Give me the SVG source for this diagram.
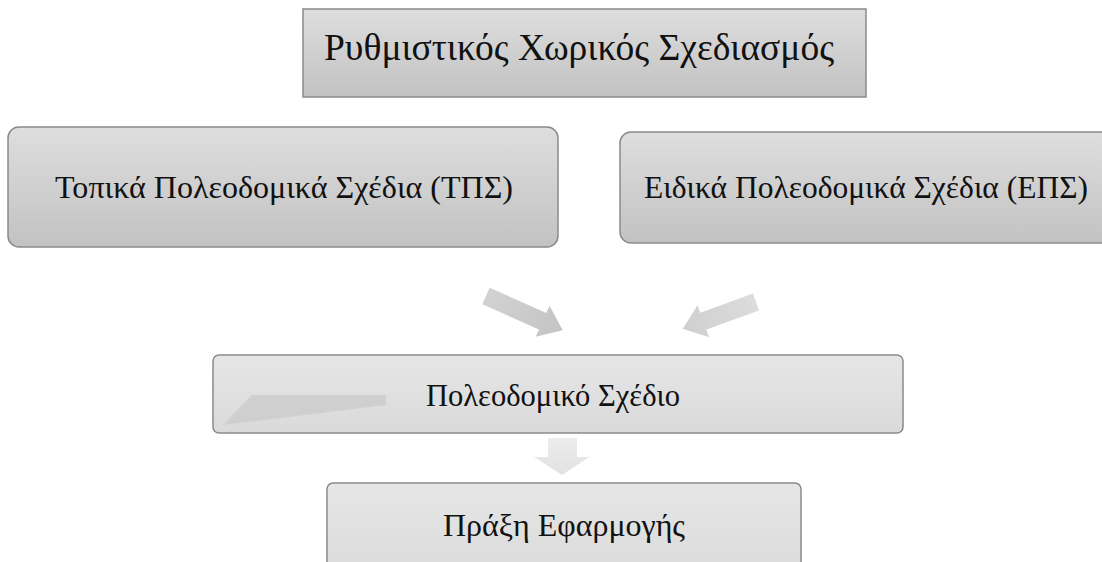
<svg xmlns="http://www.w3.org/2000/svg" width="1102" height="562" viewBox="0 0 1102 562">
  <style>
    .lbl { font-family: "Liberation Serif", "DejaVu Serif", serif; fill: #111; text-anchor: middle; }
    .box { stroke: #8a8a8a; stroke-width: 1.5; }
  </style>
  <defs>
    <linearGradient id="gDark" x1="0" y1="0" x2="0" y2="1">
      <stop offset="0" stop-color="#dedede"/>
      <stop offset="1" stop-color="#c2c2c2"/>
    </linearGradient>
    <linearGradient id="gLight" x1="0" y1="0" x2="0" y2="1">
      <stop offset="0" stop-color="#e6e6e6"/>
      <stop offset="1" stop-color="#dadada"/>
    </linearGradient>
    <linearGradient id="gArrow" x1="0" y1="0" x2="1" y2="0">
      <stop offset="0" stop-color="#d2d2d2"/>
      <stop offset="1" stop-color="#c4c4c4"/>
    </linearGradient>
    <linearGradient id="gArrow2" x1="0" y1="0" x2="1" y2="0">
      <stop offset="0" stop-color="#dcdcdc"/>
      <stop offset="1" stop-color="#cfcfcf"/>
    </linearGradient>
    <linearGradient id="gDown" x1="0" y1="0" x2="0" y2="1">
      <stop offset="0" stop-color="#ececec"/>
      <stop offset="1" stop-color="#e2e2e2"/>
    </linearGradient>
  </defs>

  <rect width="1102" height="562" fill="#ffffff"/>

  <g id="node-rythmistikos">
    <rect class="box" x="303" y="9" width="563" height="88" fill="url(#gDark)"/>
    <text class="lbl" x="579" y="60" font-size="37" textLength="510" lengthAdjust="spacingAndGlyphs">Ρυθμιστικός Χωρικός Σχεδιασμός</text>
  </g>

  <g id="node-tps">
    <rect class="box" x="8" y="127" width="550" height="120" rx="11" fill="url(#gDark)"/>
    <text class="lbl" x="284" y="198" font-size="32" textLength="458" lengthAdjust="spacingAndGlyphs">Τοπικά Πολεοδομικά Σχέδια (ΤΠΣ)</text>
  </g>

  <g id="node-eps">
    <rect class="box" x="620" y="132" width="500" height="111" rx="11" fill="url(#gDark)"/>
    <text class="lbl" x="866" y="198" font-size="32" textLength="444" lengthAdjust="spacingAndGlyphs">Ειδικά Πολεοδομικά Σχέδια (ΕΠΣ)</text>
  </g>

  <g id="node-poleodomiko">
    <rect class="box" x="213" y="355" width="690" height="78" rx="6" fill="url(#gLight)"/>
    <polygon points="252,395 386,395 386,405 223,425" fill="#cfcfcf"/>
    <text class="lbl" x="553" y="406" font-size="32" textLength="254" lengthAdjust="spacingAndGlyphs">Πολεοδομικό Σχέδιο</text>
  </g>

  <g id="node-praxi">
    <rect class="box" x="327" y="483" width="474" height="100" rx="6" fill="url(#gLight)"/>
    <text class="lbl" x="564" y="536" font-size="32" textLength="242" lengthAdjust="spacingAndGlyphs">Πράξη Εφαρμογής</text>
  </g>

  <g id="connectors">
    <polygon transform="translate(486,296) rotate(24)" points="0,-9 62,-9 62,-17 84,0 62,17 62,9 0,9" fill="url(#gArrow)"/>
    <polygon transform="translate(756,302) rotate(160)" points="0,-9 56,-9 56,-17 78,0 56,17 56,9 0,9" fill="url(#gArrow2)"/>
    <polygon points="548,438 577,438 577,457 589,457 562,475 534,457 548,457" fill="url(#gDown)"/>
  </g>
</svg>
